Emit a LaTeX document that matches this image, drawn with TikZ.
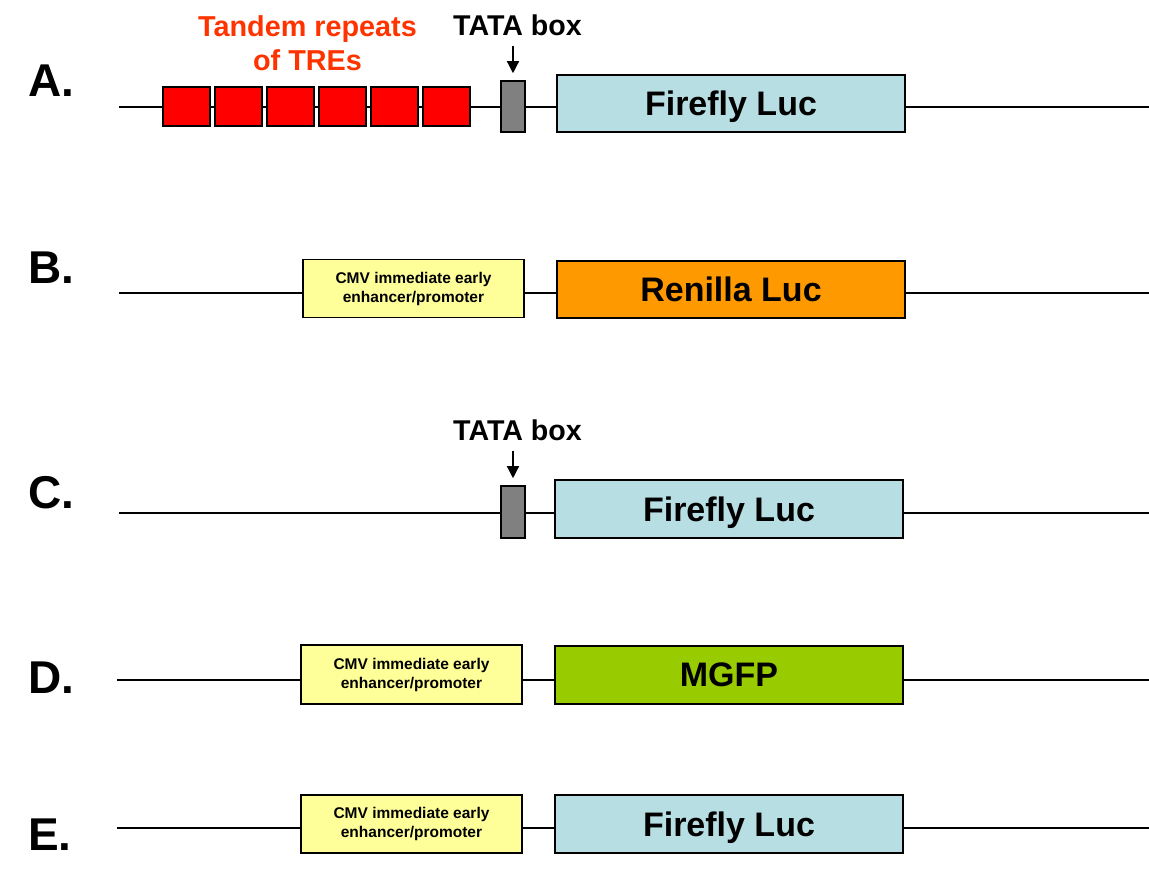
\documentclass[tikz,border=0pt]{standalone}
\usepackage{fontspec}
\setmainfont{Liberation Sans}
\usetikzlibrary{arrows.meta}
\definecolor{trered}{RGB}{255,0,0}
\definecolor{treorange}{RGB}{255,51,0}
\definecolor{tatagray}{RGB}{128,128,128}
\definecolor{lucblue}{RGB}{183,222,226}
\definecolor{renorange}{RGB}{255,153,0}
\definecolor{cmvyellow}{RGB}{255,255,153}
\definecolor{mgfpgreen}{RGB}{153,204,0}
\tikzstyle{every gene} = [draw, line width=1.6pt, inner sep=0pt]
\tikzstyle{dna} = [line width=1.4pt]
\tikzstyle{tre} = [every gene, fill=trered, minimum width=47, minimum height=39]
\tikzstyle{tata} = [every gene, fill=tatagray, minimum width=24, minimum height=51]
\tikzstyle{luc} = [every gene, minimum width=348, minimum height=57, text depth=0pt, font=\fontsize{34}{40}\bfseries]
\tikzstyle{cmv} = [every gene, fill=cmvyellow, minimum width=221, minimum height=58, align=center, font=\fontsize{15.5}{19}\bfseries]
\tikzstyle{rowlabel} = [anchor=base west, inner sep=0pt, font=\fontsize{46}{50}\bfseries]
\tikzstyle{tatatext} = [inner sep=0pt, font=\fontsize{28.6}{34}\bfseries]
\tikzstyle{pointer} = [-{Triangle[width=12pt,length=12pt]}, line width=1.4pt, shorten <=10pt, shorten >=7pt]

\begin{document}
\begin{tikzpicture}[x=1pt,y=-1pt]
\useasboundingbox (0,0) rectangle (1149,876);
% A. TRE reporter
\node[rowlabel] (labA) at (28,96) {A.};
\coordinate (a0) at (119,107);
\coordinate (a1) at (1149,107);
\draw[dna] (a0) -- (a1);
\foreach \i in {0,...,5}
  \node[tre] (tre\i) at (186.5+52*\i,106.5) {};
\node[tata] (tataA) at (513,106.5) {};
\node[luc,fill=lucblue] (lucA) at (731,103.5) {Firefly Luc};
\node[inner sep=0pt, align=center, text=treorange, font=\fontsize{28.8}{34}\bfseries] (tandem) at (307.5,43) {Tandem repeats\\of TREs};
\node[tatatext] (tataAtxt) at (517.5,25) {TATA box};
\draw[pointer] (tataAtxt.south -| tataA.north) -- (tataA.north);

% B. CMV - Renilla
\node[rowlabel] (labB) at (28,283) {B.};
\coordinate (b0) at (119,293);
\coordinate (b1) at (1149,293);
\draw[dna] (b0) -- (b1);
\node[cmv] (cmvB) at (413.5,288.5) {CMV immediate early\\enhancer/promoter};
\node[luc,fill=renorange] (renB) at (731,289.5) {Renilla Luc};

% C. minimal promoter
\node[rowlabel] (labC) at (28,508) {C.};
\coordinate (c0) at (119,513);
\coordinate (c1) at (1149,513);
\draw[dna] (c0) -- (c1);
\node[tata,minimum height=52] (tataC) at (513,512) {};
\node[luc,fill=lucblue,minimum height=58] (lucC) at (729,509) {Firefly Luc};
\node[tatatext] (tataCtxt) at (517.5,430) {TATA box};
\draw[pointer] (tataCtxt.south -| tataC.north) -- (tataC.north);

% D. CMV - MGFP
\node[rowlabel] (labD) at (28,693) {D.};
\coordinate (d0) at (117,680);
\coordinate (d1) at (1149,680);
\draw[dna] (d0) -- (d1);
\node[cmv,minimum height=59] (cmvD) at (411.5,674.5) {CMV immediate early\\enhancer/promoter};
\node[luc,fill=mgfpgreen,minimum height=58] (mgfpD) at (729,675) {MGFP};

% E. CMV - Firefly
\node[rowlabel] (labE) at (28,850) {E.};
\coordinate (e0) at (117,828);
\coordinate (e1) at (1149,828);
\draw[dna] (e0) -- (e1);
\node[cmv] (cmvE) at (411.5,824) {CMV immediate early\\enhancer/promoter};
\node[luc,fill=lucblue,minimum height=58] (lucE) at (729,824) {Firefly Luc};
\end{tikzpicture}
\end{document}
